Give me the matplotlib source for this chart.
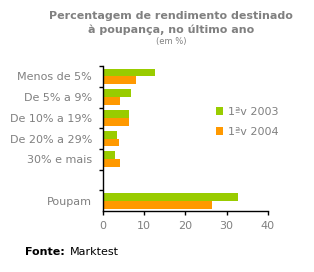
import matplotlib
matplotlib.use("Agg")
import matplotlib.pyplot as plt
import numpy as np

# categories, top to bottom (one empty slot before "Poupam")
categories = ["Menos de 5%", "De 5% a 9%", "De 10% a 19%", "De 20% a 29%", "30% e mais", "", "Poupam"]
v2003 = [12.7, 6.8, 6.3, 3.4, 3.0, 0, 32.8]
v2004 = [8.1, 4.2, 6.2, 3.8, 4.2, 0, 26.5]
series_names = ["1ªv 2003", "1ªv 2004"]

green = "#99CC00"
orange = "#FF9900"
grey = "#808080"

fig = plt.figure(figsize=(3.14, 2.72), dpi=100)
ax = fig.add_axes([0.328, 0.224, 0.525, 0.533])

y = np.arange(len(categories))
h = 0.38
ax.barh(y - h / 2, v2003, height=h, color=green, label=series_names[0])
ax.barh(y + h / 2, v2004, height=h, color=orange, label=series_names[1])

ax.set_xlim(0, 40)
ax.set_ylim(len(categories) - 0.5, -0.5)

# ticks between categories, labels at the centres
ax.set_yticks(np.arange(-0.5, len(categories) - 1, 1))
ax.set_yticklabels([])
ax.set_yticks(y, minor=True)
ax.set_yticklabels(categories, minor=True, fontsize=8, color=grey)
ax.tick_params(axis="y", which="minor", length=0, pad=8)
ax.tick_params(axis="y", which="major", length=3, width=1, color="black")

ax.set_xticks([0, 10, 20, 30, 40])
ax.tick_params(axis="x", length=3, width=1, labelsize=8, labelcolor=grey, pad=4)

for s in ["top", "right"]:
    ax.spines[s].set_visible(False)
for s in ["left", "bottom"]:
    ax.spines[s].set_linewidth(1)

fig.legend(loc="upper left", bbox_to_anchor=(0.655, 0.645), frameon=False,
           handlelength=0.7, handleheight=0.7, handletextpad=0.4,
           labelspacing=0.9, fontsize=8, labelcolor=grey)

fig.text(0.545, 0.94, "Percentagem de rendimento destinado", ha="center", va="center",
         fontsize=8, fontweight="bold", color=grey)
fig.text(0.545, 0.89, "à poupança, no último ano", ha="center", va="center",
         fontsize=8, fontweight="bold", color=grey)
fig.text(0.545, 0.848, "(em %)", ha="center", va="center", fontsize=6, color=grey)

fig.text(0.08, 0.073, "Fonte:", ha="left", va="center", fontsize=8, fontweight="bold", color="black")
fig.text(0.222, 0.073, "Marktest", ha="left", va="center", fontsize=8, color="black")

fig.savefig("out.png", dpi=100)
